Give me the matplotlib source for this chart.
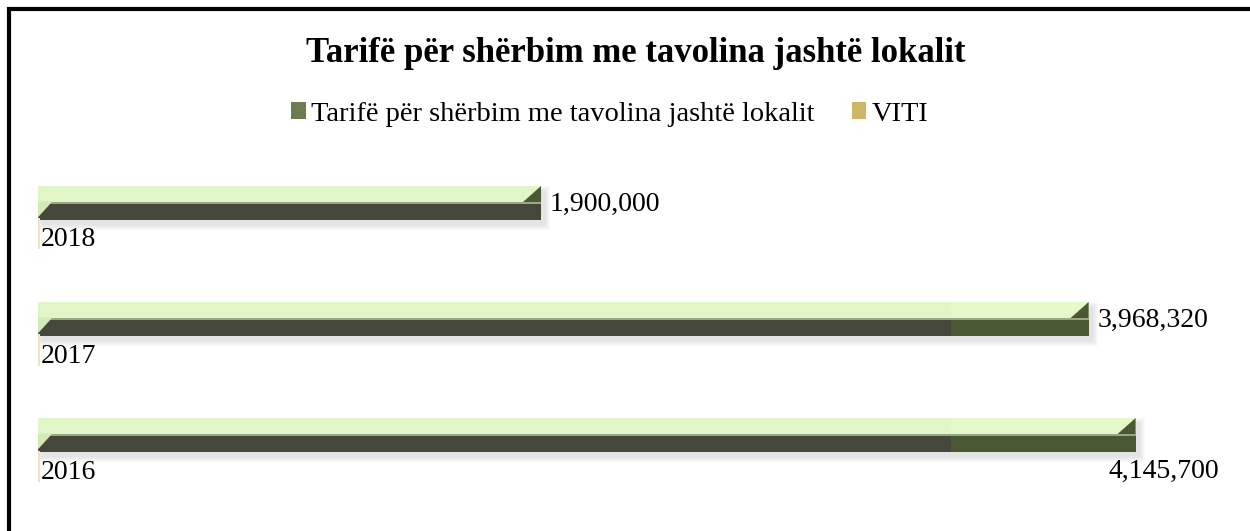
import matplotlib.pyplot as plt
from matplotlib.patches import Polygon, Rectangle, Patch

plt.rcParams['font.family'] = ['Liberation Serif', 'DejaVu Serif']

# data (bottom to top as drawn)
years = ['2016', '2017', '2018']
tarifa = [4145700, 3968320, 1900000]
viti = [2016, 2017, 2018]

title = 'Tarifë për shërbim me tavolina jashtë lokalit'
series_names = ['Tarifë për shërbim me tavolina jashtë lokalit', 'VITI']

dark = '#44473a'
dark_green = '#4b5834'
light = '#e0f6c6'
light_edge = '#d2eab6'
viti_col = '#cdb767'

fig = plt.figure(figsize=(12.5, 5.31), dpi=100)
ax = fig.add_axes([38 / 1250, 0, 1202 / 1250, 1])
xmax = 4.54e6
ax.set_xlim(0, xmax)
ax.set_ylim(-0.836, 3.741)
ax.axis('off')

sx = xmax / 1202   # data units per pixel
sy = 1 / 116
ht = 16 * sy       # top face
hd = 18 * sy       # front face
bx = 18 * sx       # bevel width
split = 3.45e6     # where the gradient fill changes tone

for i, (v, yr) in enumerate(zip(tarifa, viti)):
    c = i
    # soft shadow
    for k in range(6):
        ax.add_patch(Rectangle((4 * sx - k * sx, c - hd - 5 * sy - k * sy),
                               v + 2 * k * sx, ht + hd + 2 * k * sy,
                               facecolor='#808080', edgecolor='none', alpha=0.035, zorder=1))
    # faces
    ax.barh(c, v, height=ht, align='edge', color=light, zorder=2)
    ax.barh(c - hd, v, height=hd, align='edge', color=dark, zorder=2)
    if v > split:
        ax.barh(c - hd, v - split, left=split, height=hd, align='edge', color=dark_green, zorder=2)
        ax.barh(c, v - split, left=split, height=ht, align='edge', color='#e3f9c9', zorder=2)
    ax.barh(c - 2 * sy, v, height=2 * sy, align='edge', color='#9aa685', zorder=2.5)
    # bevel corners
    ax.add_patch(Polygon([(v - bx, c), (v, c + ht), (v, c)], closed=True,
                         facecolor=dark_green, edgecolor='none', zorder=3))
    ax.add_patch(Polygon([(0, c + 0.5 * sy), (bx * 0.8, c + 0.5 * sy), (0, c - hd * 0.85)], closed=True,
                         facecolor=light_edge, edgecolor='none', zorder=3))
    # VITI series (tiny values)
    ax.barh(c - 32 * sy, yr, height=29 * sy, align='center', color=viti_col,
            edgecolor='#efe3c0', linewidth=1.5, zorder=2)
    ax.annotate(years[i], (yr, c - 38 * sy), xytext=(2, 0), textcoords='offset pixels',
                ha='left', va='center', fontsize=20)

# value labels
for i, v in enumerate(tarifa):
    if v == max(tarifa):
        ax.annotate(f'{v:,}', (v, i), xytext=(28, -37), textcoords='offset pixels',
                    ha='center', va='center', fontsize=20)
    else:
        ax.annotate(f'{v:,}', (v, i), xytext=(9, -2), textcoords='offset pixels',
                    ha='left', va='center', fontsize=20)

fig.text(0.509, 0.900, title, ha='center', va='center', fontsize=25, fontweight='bold')

handles = [Patch(facecolor='#6d7b52', edgecolor='none'), Patch(facecolor=viti_col, edgecolor='none')]
fig.legend(handles, series_names, loc='center', bbox_to_anchor=(0.488, 0.785), ncol=2,
           frameon=False, fontsize=20.5, handlelength=0.5, handleheight=0.5,
           handletextpad=0.2, columnspacing=1.3)

# frame (only top and left edges are visible in the crop)
fig.add_artist(Rectangle((9 / 1250, -0.1), 1.2, (531 - 9) / 531 + 0.1, transform=fig.transFigure,
                         fill=False, edgecolor='black', linewidth=3))

fig.savefig('out.png', dpi=100)
